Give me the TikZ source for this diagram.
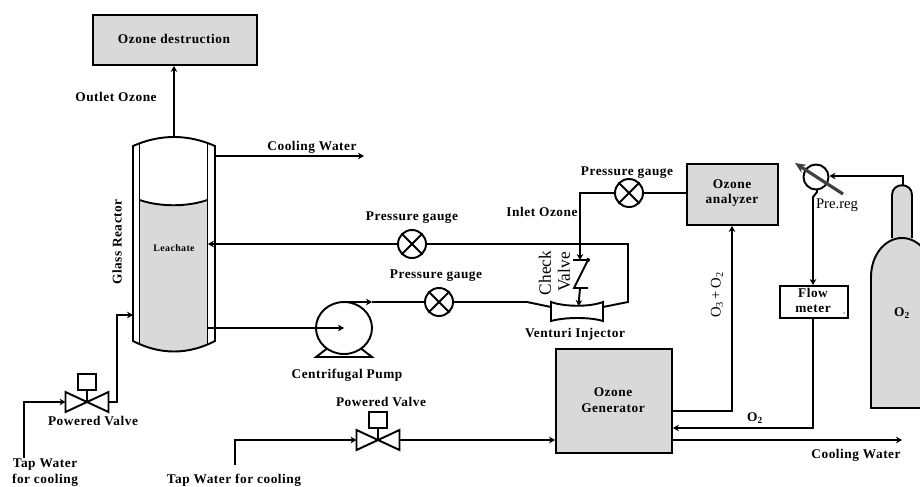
\documentclass[tikz,border=0pt]{standalone}
\usepackage{fontspec}
\setmainfont{Liberation Serif}
\usetikzlibrary{arrows.meta,calc}
\definecolor{boxgrey}{HTML}{D9D9D9}
\tikzset{
  pipe/.style={line width=1.45pt,line join=miter},
  flow/.style={pipe,-{Stealth[length=4.5pt,width=5pt]}},
  lab/.style={font=\fontsize{10pt}{11.8pt}\selectfont\addfontfeatures{LetterSpace=4}\bfseries,align=center,inner sep=0pt},
  greybox/.style={draw,pipe,fill=boxgrey,inner sep=0pt,anchor=north west},
  gauge/.style={circle,draw,pipe,fill=white,minimum size=21pt,inner sep=0pt},
  vtext/.style={font=\fontsize{13pt}{15pt}\selectfont,rotate=90,inner sep=0pt},
}
\newcommand{\gaugecross}[1]{\draw[pipe] (#1.45)--(#1.225) (#1.135)--(#1.315);}
\newcommand{\pvalve}[2]{%
  \coordinate (#2) at (#1);
  \coordinate (#2w) at ($(#1)+(-21.5,0)$);
  \coordinate (#2e) at ($(#1)+(21.5,0)$);
  \draw[pipe,fill=white] (#2w)++(0,-10) -- (#1) -- ($(#1)+(21.5,-10)$) -- ($(#1)+(21.5,10)$) -- (#1) -- ($(#1)+(-21.5,10)$) -- cycle;
  \draw[pipe] (#1) -- ++(0,-11);
  \node[draw,pipe,fill=white,minimum width=13.5pt,minimum height=12pt,inner sep=0pt,anchor=south] (#2box) at ($(#1)+(0,-11)$) {};
}
\begin{document}
\begin{tikzpicture}[x=0.75pt,y=-0.75pt]
\useasboundingbox (0,0) rectangle (920,486);
% ozone destruction
\node[greybox,minimum width=123pt,minimum height=37.5pt] (destr) at (92,14) {};
\node[lab] (destrt) at (174,39) {Ozone destruction};
% reactor
\coordinate (rtl) at (133,146); \coordinate (rtr) at (215,146);
\coordinate (rbl) at (133,341); \coordinate (rbr) at (215,341);
\coordinate (rtop) at (174,137);
\begin{scope}
\clip (139.5,190) rectangle (207,360);
\fill[boxgrey] (133,200) .. controls (160,208) and (187,208) .. (215,200) -- (rbr) .. controls (188,355) and (160,355) .. (rbl) -- cycle;
\end{scope}
\draw[pipe] (rtl) .. controls (160,134) and (188,134) .. (rtr) -- (rbr) .. controls (188,355) and (160,355) .. (rbl) -- cycle;
\draw[pipe] (139.5,143.5) -- (139.5,344.5) (207.5,143.5) -- (207.5,344.5);
\draw[pipe] (139.5,200) .. controls (160,207) and (187,207) .. (207.5,200);
\node[lab,font=\fontsize{7.4pt}{8pt}\selectfont\addfontfeatures{LetterSpace=4}\bfseries] (leach) at (174,248) {Leachate};
\node[lab,rotate=90] (glass) at (117,242) {Glass Reactor};
\draw[flow] (rtop) -- (destr.south -| rtop);
\node[lab] (outl) at (116,97) {Outlet Ozone};
\coordinate (cw1) at (364,156);
\draw[flow] (215,156) -- (cw1);
\node[lab] (cw1t) at (312,147) {Cooling Water};
% first valve
\pvalve{87,402}{va}
\coordinate (tap1) at (24,458);
\coordinate (rin) at (133,315);
\draw[flow] (tap1) |- (vaw);
\draw[flow] (vae) -| (117,315) -- (rin);
\node[lab] (vat) at (93,421) {Powered Valve};
\node[lab] (tap1t) at (45,472.5) {Tap Water\\for cooling};
% gauges, pump
\node[gauge] (g1) at (412,244) {}; \gaugecross{g1}
\node[lab] at (412,218) {Pressure gauge};
\node[gauge] (g2) at (439,302) {}; \gaugecross{g2}
\node[lab] at (436,276) {Pressure gauge};
\node[gauge] (g3) at (629,193) {}; \gaugecross{g3}
\node[lab] at (627,173) {Pressure gauge};
% pump
\coordinate (pc) at (344,328);
\draw[pipe,fill=white] (329,347) -- (316,357) -- (372,357) -- (359,347);
\draw[pipe,fill=white] (pc) ellipse[x radius=28,y radius=26];
\draw[flow] (207.5,328) -- (pc);
\draw[flow] (345,302) -- (372,302);
\draw[pipe] (372,302) -- (g2);
\node[lab] (pumpt) at (347,375) {Centrifugal Pump};
% venturi
\coordinate (vl) at (551,307); \coordinate (vr) at (603,307); \coordinate (vm) at (578,307);
\draw[pipe,fill=white] (551,302) .. controls (565,307) and (590,307) .. (603,302) -- (603,321) .. controls (590,317) and (565,317) .. (551,321) -- cycle;
\node[lab] (vent) at (575,334) {Venturi Injector};
\draw[pipe] (g2) -- (527,302) -- (vl);
\coordinate (vrr) at (628,302);
\draw[pipe] (vr) -- (vrr) -- (628,244) -- (g1);
\draw[flow] (g1) -- (208,244);
% check valve
\coordinate (cvt) at (580,260); \coordinate (cvb) at (580,288);
\draw[pipe] (573,260) -- (588,260) -- (574,288) -- (588,288);
\fill (588,260) circle[radius=2];
\draw[flow] (g3) -- (580,193) -- (cvt);
\draw[flow] (cvb) -- (578.5,306);
\node[lab] (inl) at (542,212) {Inlet Ozone};
\node[vtext] at (545,273) {Check};
\node[vtext] at (564,272) {Valve};
% generator and analyzer
\node[greybox,minimum width=87pt,minimum height=78pt] (gen) at (555,348) {};
\node[lab] at (613,400) {Ozone\\Generator};
\node[greybox,minimum width=68.25pt,minimum height=45.75pt] (ana) at (686,163) {};
\node[lab] at (732,193) {Ozone\\analyzer};
\draw[pipe] (g3) -- (ana.west |- g3);
% second valve
\pvalve{378,440}{vb}
\coordinate (tap2) at (235,465);
\draw[flow] (tap2) |- (vbw);
\draw[flow] (vbe) -- (gen.west |- vbe);
\node[lab] at (381,402) {Powered Valve};
\node[lab] at (234,480) {Tap Water for cooling};
% connections to right
\draw[flow] (gen.east |- 0,411) -- (732,411) -- (ana.south -| 732,0);
\node[vtext,font=\fontsize{11pt}{13pt}\selectfont] at (717,295) {O\textsubscript{3}\,+\,O\textsubscript{2}};
% flow meter
\node[greybox,fill=white,minimum width=51pt,minimum height=24pt] (fm) at (779,285) {};
\node[lab] at (813,300.5) {Flow\\meter};
\fill (844,313) circle[radius=0.6];
\draw[flow] (fm.south -| 813,0) -- (813,428) -- (gen.east |- 0,428);
\node[lab] at (755,418) {O\textsubscript{2}};
\coordinate (cw2) at (902,440);
\draw[flow] (gen.east |- cw2) -- (cw2);
\node[lab] at (856,455) {Cooling Water};
% regulator
\node[circle,draw,pipe,minimum size=18.75pt,inner sep=0pt] (reg) at (816,177) {};
\draw[line width=2.4pt,draw=black!75,-{Stealth[length=8pt,width=7pt]}] (843,194) -- (795,163);
\draw[flow] (817,189.5) -- (817,192) -- (813,197) -- (fm.north -| 813,0);
\node[font=\fontsize{11pt}{12pt}\selectfont,inner sep=0pt] (pre) at (837,205) {Pre.reg};
% cylinder
\begin{scope}
\clip (860,170) rectangle (920,420);
\draw[pipe,fill=boxgrey] (892,238) -- (892,195) .. controls (892,182) and (912,182) .. (912,195) -- (912,238);
\draw[pipe,fill=boxgrey] (871,408) -- (871,277) .. controls (871,255) and (885,238) .. (902,238) .. controls (919,238) and (933,255) .. (933,277) -- (933,408) -- cycle;
\end{scope}
\node[lab] (oo) at (902,313) {O\textsubscript{2}};
\coordinate (ctop) at (903,185);
\draw[flow] (ctop) |- (reg.east |- 0,176);
\end{tikzpicture}
\end{document}
